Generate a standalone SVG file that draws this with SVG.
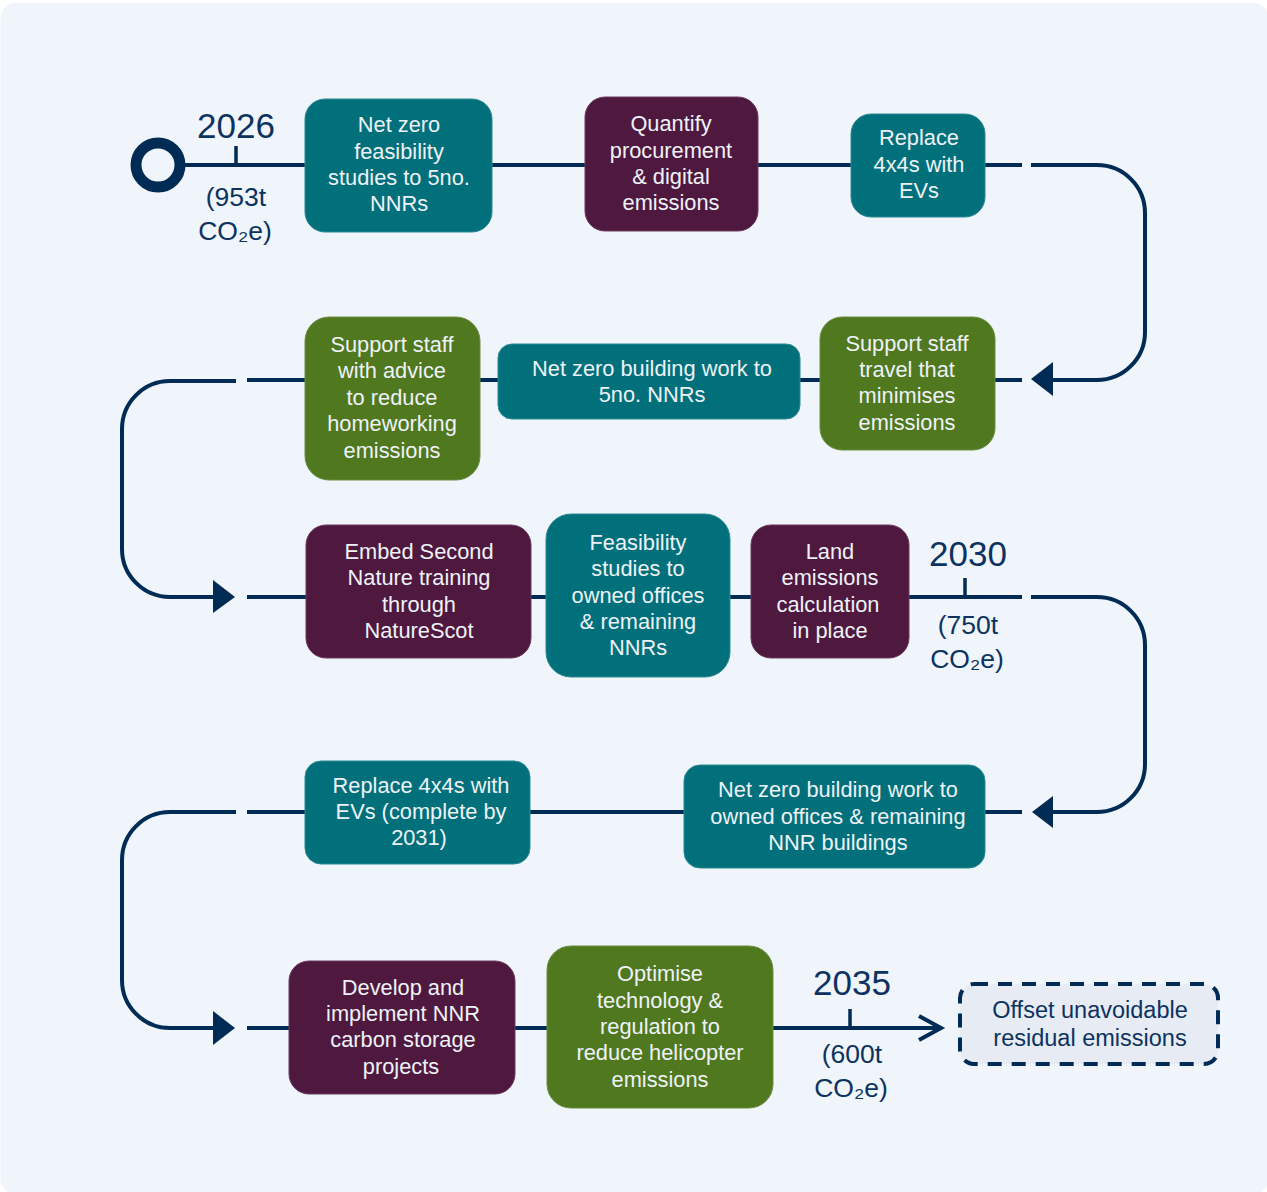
<svg xmlns="http://www.w3.org/2000/svg" width="1267" height="1192" viewBox="0 0 1267 1192">
  <defs>
    <style>
      .panel { fill: #f0f4fb; }
      .line { fill: none; stroke: #002b55; stroke-width: 4; }
      .tick { stroke: #002b55; stroke-width: 3.5; }
      .head { fill: #002b55; }
      .teal { fill: #01707a; stroke: #2b8a92; stroke-width: 1; }
      .plum { fill: #4f193f; stroke: #6a3a5c; stroke-width: 1; }
      .green { fill: #50781f; stroke: #6a8d3f; stroke-width: 1; }
      .nt { font-family: "Liberation Sans", Arial, sans-serif; font-size: 21.8px; fill: #eef2f8; text-anchor: middle; }
      .yr { font-family: "Liberation Sans", Arial, sans-serif; font-size: 35px; fill: #0c3360; text-anchor: middle; }
      .em { font-family: "Liberation Sans", Arial, sans-serif; font-size: 26.5px; fill: #0c3360; text-anchor: middle; }
      .off { fill: #e7ebf3; stroke: #002b55; stroke-width: 4; stroke-dasharray: 14 10; }
      .ot { font-family: "Liberation Sans", Arial, sans-serif; font-size: 23.5px; fill: #0c3360; text-anchor: middle; }
    </style>
  </defs>

  <rect width="1267" height="1192" fill="#ffffff"/>
  <rect class="panel" x="0.5" y="2.5" width="1268" height="1192" rx="16"/>

  <!-- connectors -->
  <g id="connectors">
    <!-- row 1 -->
    <circle cx="158" cy="165" r="22" fill="none" stroke="#002b55" stroke-width="11"/>
    <path class="line" d="M180 165 H1022"/>
    <path class="line" d="M1031 165 H1097 A48 48 0 0 1 1145 213 V332 A48 48 0 0 1 1097 380 H1050"/>
    <path class="head" d="M1031 379 L1053 362 L1053 396 Z"/>
    <line class="tick" x1="236" y1="146" x2="236" y2="165"/>
    <!-- row 2 -->
    <path class="line" d="M995 380 H1022"/>
    <path class="line" d="M247 380 H995"/>
    <path class="line" d="M236 381 H170 A48 48 0 0 0 122 429 V549 A48 48 0 0 0 170 597 H216"/>
    <path class="head" d="M235 597 L213 580 L213 613 Z"/>
    <!-- row 3 -->
    <path class="line" d="M247 597 H1022"/>
    <line class="tick" x1="965" y1="578" x2="965" y2="597"/>
    <path class="line" d="M1031 597 H1097 A48 48 0 0 1 1145 645 V764 A48 48 0 0 1 1097 812 H1050"/>
    <path class="head" d="M1032 812 L1053 796 L1053 828 Z"/>
    <!-- row 4 -->
    <path class="line" d="M247 812 H1022"/>
    <path class="line" d="M236 812 H170 A48 48 0 0 0 122 860 V980 A48 48 0 0 0 170 1028 H216"/>
    <path class="head" d="M235 1028 L213 1011 L213 1045 Z"/>
    <!-- row 5 -->
    <path class="line" d="M247 1028 H940"/>
    <path class="line" d="M919 1016 L941 1028 L919 1040"/>
    <line class="tick" x1="850" y1="1009" x2="850" y2="1028"/>
  </g>

  <!-- milestone labels -->
  <g id="m2026">
    <text class="yr" x="236" y="138">2026</text>
    <text class="em" x="236" y="206">(953t</text>
    <text class="em" x="235" y="240">CO₂e)</text>
  </g>
  <g id="m2030">
    <text class="yr" x="968" y="566">2030</text>
    <text class="em" x="968" y="634">(750t</text>
    <text class="em" x="967" y="668">CO₂e)</text>
  </g>
  <g id="m2035">
    <text class="yr" x="852" y="995">2035</text>
    <text class="em" x="852" y="1063">(600t</text>
    <text class="em" x="851" y="1097">CO₂e)</text>
  </g>

  <!-- row 1 nodes -->
  <g id="n1">
    <rect class="teal" x="305" y="99" width="187" height="133" rx="20"/>
    <text class="nt" x="399" y="132">Net zero</text>
    <text class="nt" x="399" y="159">feasibility</text>
    <text class="nt" x="399" y="185">studies to 5no.</text>
    <text class="nt" x="399" y="211">NNRs</text>
  </g>
  <g id="n2">
    <rect class="plum" x="585" y="97" width="173" height="134" rx="20"/>
    <text class="nt" x="671" y="131">Quantify</text>
    <text class="nt" x="671" y="158">procurement</text>
    <text class="nt" x="671" y="184">&amp; digital</text>
    <text class="nt" x="671" y="210">emissions</text>
  </g>
  <g id="n3">
    <rect class="teal" x="851" y="114" width="134" height="103" rx="20"/>
    <text class="nt" x="919" y="145">Replace</text>
    <text class="nt" x="919" y="172">4x4s with</text>
    <text class="nt" x="919" y="198">EVs</text>
  </g>

  <!-- row 2 nodes -->
  <g id="n4">
    <rect class="green" x="820" y="317" width="175" height="133" rx="22"/>
    <text class="nt" x="907" y="351">Support staff</text>
    <text class="nt" x="907" y="377">travel that</text>
    <text class="nt" x="907" y="403">minimises</text>
    <text class="nt" x="907" y="430">emissions</text>
  </g>
  <g id="n5">
    <rect class="teal" x="498" y="344" width="302" height="75" rx="14"/>
    <text class="nt" x="652" y="376">Net zero building work to</text>
    <text class="nt" x="652" y="402">5no. NNRs</text>
  </g>
  <g id="n6">
    <rect class="green" x="305" y="317" width="175" height="163" rx="24"/>
    <text class="nt" x="392" y="352">Support staff</text>
    <text class="nt" x="392" y="378">with advice</text>
    <text class="nt" x="392" y="405">to reduce</text>
    <text class="nt" x="392" y="431">homeworking</text>
    <text class="nt" x="392" y="458">emissions</text>
  </g>

  <!-- row 3 nodes -->
  <g id="n7">
    <rect class="plum" x="306" y="525" width="225" height="133" rx="20"/>
    <text class="nt" x="419" y="559">Embed Second</text>
    <text class="nt" x="419" y="585">Nature training</text>
    <text class="nt" x="419" y="612">through</text>
    <text class="nt" x="419" y="638">NatureScot</text>
  </g>
  <g id="n8">
    <rect class="teal" x="546" y="514" width="184" height="163" rx="25"/>
    <text class="nt" x="638" y="550">Feasibility</text>
    <text class="nt" x="638" y="576">studies to</text>
    <text class="nt" x="638" y="603">owned offices</text>
    <text class="nt" x="638" y="629">&amp; remaining</text>
    <text class="nt" x="638" y="655">NNRs</text>
  </g>
  <g id="n9">
    <rect class="plum" x="751" y="525" width="158" height="133" rx="20"/>
    <text class="nt" x="830" y="559">Land</text>
    <text class="nt" x="830" y="585">emissions</text>
    <text class="nt" x="828" y="612">calculation</text>
    <text class="nt" x="830" y="638">in place</text>
  </g>

  <!-- row 4 nodes -->
  <g id="n10">
    <rect class="teal" x="684" y="765" width="301" height="103" rx="16"/>
    <text class="nt" x="838" y="797">Net zero building work to</text>
    <text class="nt" x="838" y="824">owned offices &amp; remaining</text>
    <text class="nt" x="838" y="850">NNR buildings</text>
  </g>
  <g id="n11">
    <rect class="teal" x="305" y="761" width="225" height="103" rx="16"/>
    <text class="nt" x="421" y="793">Replace 4x4s with</text>
    <text class="nt" x="421" y="819">EVs (complete by</text>
    <text class="nt" x="419" y="845">2031)</text>
  </g>

  <!-- row 5 nodes -->
  <g id="n12">
    <rect class="plum" x="289" y="961" width="226" height="133" rx="20"/>
    <text class="nt" x="403" y="995">Develop and</text>
    <text class="nt" x="403" y="1021">implement NNR</text>
    <text class="nt" x="403" y="1047">carbon storage</text>
    <text class="nt" x="401" y="1074">projects</text>
  </g>
  <g id="n13">
    <rect class="green" x="547" y="946" width="226" height="162" rx="24"/>
    <text class="nt" x="660" y="981">Optimise</text>
    <text class="nt" x="660" y="1008">technology &amp;</text>
    <text class="nt" x="660" y="1034">regulation to</text>
    <text class="nt" x="660" y="1060">reduce helicopter</text>
    <text class="nt" x="660" y="1087">emissions</text>
  </g>
  <g id="n14">
    <rect class="off" x="960" y="984" width="258" height="80" rx="14"/>
    <text class="ot" x="1090" y="1018">Offset unavoidable</text>
    <text class="ot" x="1090" y="1046">residual emissions</text>
  </g>
</svg>
